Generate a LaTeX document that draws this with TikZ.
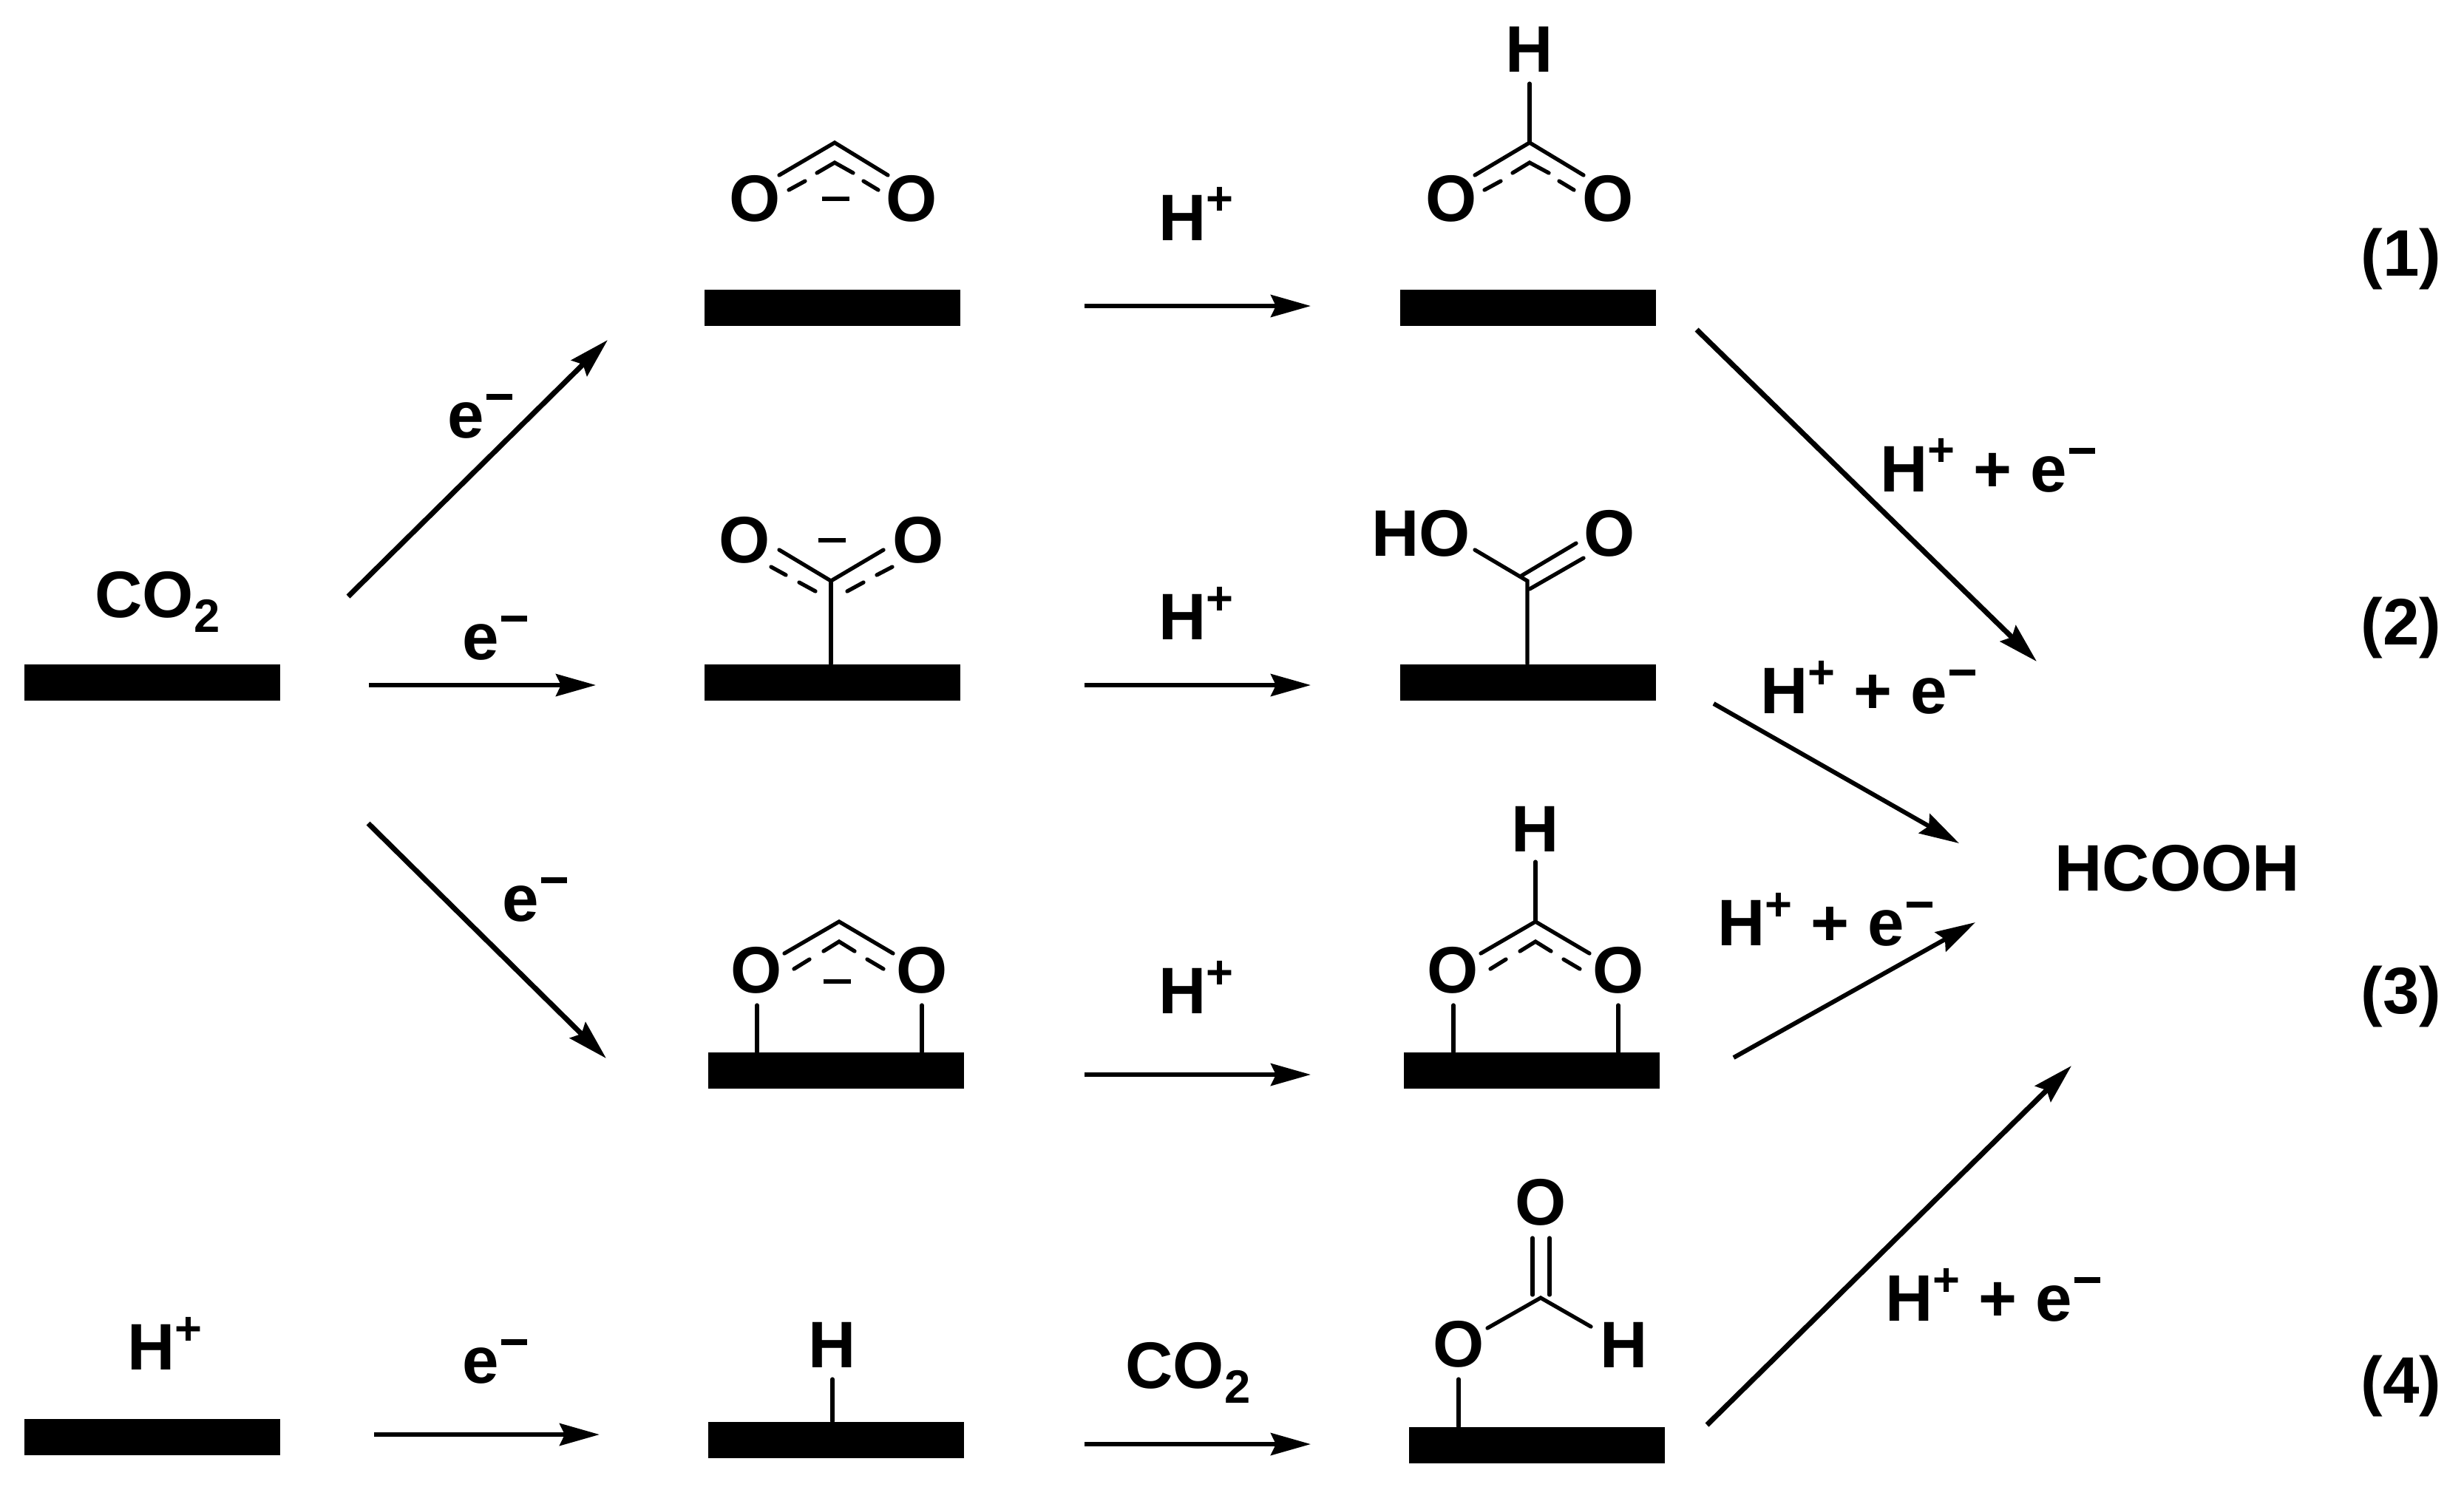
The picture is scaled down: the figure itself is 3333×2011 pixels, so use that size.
\documentclass[tikz,border=0pt]{standalone}
\usepackage{fontspec}
\setmainfont{Liberation Sans}[BoldFont={Liberation Sans Bold}]
\usetikzlibrary{arrows.meta}
\tikzset{
  surface/.style={fill=black,inner sep=0pt,minimum width=3.46cm,minimum height=.49cm,anchor=north west},
  atom/.style={font=\fontsize{25.3}{30}\selectfont\bfseries,inner sep=0pt},
  tag/.style={atom,anchor=base west},
  bond/.style={line width=1.5pt,line cap=round},
  rxn/.style={line width=1.7pt,-{Stealth[length=.54cm,width=.3cm,inset=.07cm]}},
  rxnbig/.style={rxn,line width=2pt},
}
\newcommand{\chgplus}{\raisebox{.34cm}{\fontsize{18}{18}\selectfont +}}
\newcommand{\chgminus}{\hspace{.03cm}\rule[.51cm]{.35cm}{.08cm}}
\newcommand{\subtwo}{\raisebox{-.2cm}{\fontsize{18}{18}\selectfont 2}}
\newcommand{\freeminus}{\rule{.37cm}{.06cm}}
\begin{document}
\begin{tikzpicture}[x=.01cm,y=-.01cm]
\useasboundingbox (0,0) rectangle (3333,2011);
% surfaces
\node[surface] (s0) at (32,898) {};
\node[surface] (h0) at (32,1919) {};
\node[surface] (s1) at (952,391) {};
\node[surface] (s2) at (952,898) {};
\node[surface] (s3) at (957,1423) {};
\node[surface] (s4) at (957,1923) {};
\node[surface] (p1) at (1893,391) {};
\node[surface] (p2) at (1893,898) {};
\node[surface] (p3) at (1898,1423) {};
\node[surface] (p4) at (1905,1930) {};
% start labels
\node[tag] (co) at (128,835) {CO\subtwo};
\node[tag] (hp) at (172,1853) {H\chgplus};
% arrows
\coordinate (a1) at (471,807); \coordinate (b1) at (822,460);
\coordinate (a2) at (499,927); \coordinate (b2) at (806,927);
\coordinate (a3) at (498,1114); \coordinate (b3) at (820,1432);
\coordinate (a4) at (506,1941); \coordinate (b4) at (811,1941);
\coordinate (c1) at (1467,414); \coordinate (d1) at (1773,414);
\coordinate (c2) at (1467,927); \coordinate (d2) at (1773,927);
\coordinate (c3) at (1467,1454); \coordinate (d3) at (1773,1454);
\coordinate (c4) at (1467,1954); \coordinate (d4) at (1773,1954);
\coordinate (e1) at (2295,446); \coordinate (f1) at (2755,895);
\coordinate (e2) at (2318,952); \coordinate (f2) at (2650,1141);
\coordinate (e3) at (2345,1431); \coordinate (f3) at (2672,1248);
\coordinate (e4) at (2309,1928); \coordinate (f4) at (2802,1442);
\draw[rxnbig] (a1) -- (b1);
\draw[rxn] (a2) -- (b2);
\draw[rxnbig] (a3) -- (b3);
\draw[rxn] (a4) -- (b4);
\foreach \i in {1,2,3,4} {
  \draw[rxn] (c\i) -- (d\i);
}
\draw[rxnbig] (e1) -- (f1);
\draw[rxn] (e2) -- (f2);
\draw[rxn] (e3) -- (f3);
\draw[rxnbig] (e4) -- (f4);
% arrow labels
\node[tag] (e1l) at (605,592) {e\chgminus};
\node[tag] (e2l) at (625,892) {e\chgminus};
\node[tag] (e3l) at (679,1246) {e\chgminus};
\node[tag] (e4l) at (625,1871) {e\chgminus};
\node[tag] (h1l) at (1567,325) {H\chgplus};
\node[tag] (h2l) at (1567,865) {H\chgplus};
\node[tag] (h3l) at (1567,1371) {H\chgplus};
\node[tag] (c4l) at (1522,1878) {CO\subtwo};
\node[tag] (r1) at (2543,665) {H\chgplus{} + e\chgminus};
\node[tag] (r2) at (2381,965) {H\chgplus{} + e\chgminus};
\node[tag] (r3) at (2323,1279) {H\chgplus{} + e\chgminus};
\node[tag] (r4) at (2550,1787) {H\chgplus{} + e\chgminus};
\node[tag] (prod) at (2779,1205) {HCOOH};
\node[tag] (n1) at (3193,373) {(1)};
\node[tag] (n2) at (3193,872) {(2)};
\node[tag] (n3) at (3193,1371) {(3)};
\node[tag] (n4) at (3193,1898) {(4)};
% row 1
\node[atom] (o11) at (1021,269) {O};
\node[atom] (o12) at (1233,269) {O};
\node[atom] (m1) at (1130,269) {\freeminus};
\coordinate (v1) at (1129,193);
\draw[bond] (1054,237) -- (v1) -- (1201,237);
\draw[bond] (1105,234) -- (1129,220) -- (1154,234);
\draw[bond] (1067,257) -- (1089,245) (1168,245) -- (1188,257);
\node[atom] (o13) at (1963,269) {O};
\node[atom] (o14) at (2175,269) {O};
\node[atom] (h1) at (2069,67) {H};
\coordinate (v2) at (2069,193);
\draw[bond] (1995,237) -- (v2) -- (2142,237);
\draw[bond] (v2) -- (2069,113);
\draw[bond] (2046,234) -- (2069,220) -- (2095,234);
\draw[bond] (2008,257) -- (2030,245) (2109,245) -- (2129,257);
% row 2
\node[atom] (o21) at (1007,731) {O};
\node[atom] (o22) at (1242,731) {O};
\node[atom] (m2) at (1125,731) {\freeminus};
\coordinate (v3) at (1124,786);
\draw[bond] (1054,744) -- (v3) -- (1195,744);
\draw[bond] (v3) -- (1124,898);
\draw[bond] (1043,767) -- (1063,778) (1081,788) -- (1103,800);
\draw[bond] (1146,800) -- (1168,788) (1186,778) -- (1207,767);
\node[atom] (ho) at (1922,722) {HO};
\node[atom] (o23) at (2177,722) {O};
\coordinate (v4) at (2066,786);
\draw[bond] (1995,744) -- (v4) -- (2066,898);
\draw[bond] (2058,779) -- (2132,735) (2069,797) -- (2142,755);
% row 3
\node[atom] (o31) at (1023,1313) {O};
\node[atom] (o32) at (1247,1313) {O};
\node[atom] (m3) at (1132,1328) {\freeminus};
\coordinate (v5) at (1135,1247);
\draw[bond] (1061,1290) -- (v5) -- (1208,1290);
\draw[bond] (1114,1287) -- (1135,1274) -- (1156,1287);
\draw[bond] (1074,1311) -- (1095,1298) (1173,1298) -- (1195,1311);
\draw[bond] (1024,1360) -- (1024,1423) (1247,1360) -- (1247,1423);
\node[atom] (o33) at (1965,1313) {O};
\node[atom] (o34) at (2189,1313) {O};
\node[atom] (h3) at (2077,1122) {H};
\coordinate (v6) at (2077,1247);
\draw[bond] (2003,1290) -- (v6) -- (2150,1290);
\draw[bond] (v6) -- (2077,1166);
\draw[bond] (2056,1287) -- (2077,1274) -- (2098,1287);
\draw[bond] (2016,1311) -- (2037,1298) (2115,1298) -- (2137,1311);
\draw[bond] (1966,1360) -- (1966,1423) (2189,1360) -- (2189,1423);
% row 4
\node[atom] (h4) at (1126,1820) {H};
\draw[bond] (1126,1866) -- (1126,1923);
\node[atom] (o41) at (2084,1627) {O};
\node[atom] (o42) at (1973,1819) {O};
\node[atom] (h5) at (2197,1820) {H};
\coordinate (v7) at (2084,1756);
\draw[bond] (2073,1675) -- (2073,1752) (2096,1675) -- (2096,1752);
\draw[bond] (2012,1797) -- (v7) -- (2152,1795);
\draw[bond] (1973,1866) -- (1973,1930);
\end{tikzpicture}
\end{document}
